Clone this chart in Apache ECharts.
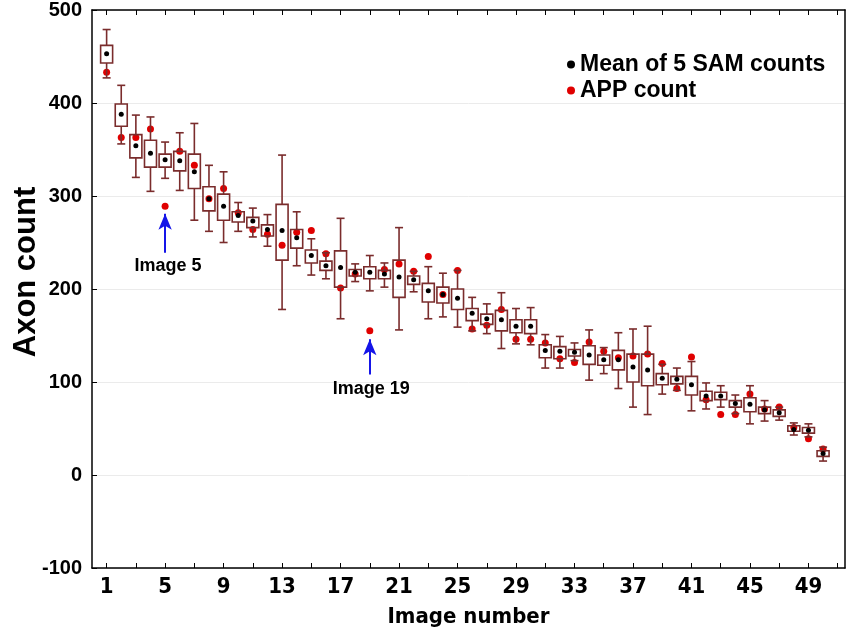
<!DOCTYPE html>
<html>
<head>
<meta charset="utf-8">
<style>
  html, body { margin: 0; padding: 0; background: #fff; }
  #chart { width: 846px; height: 633px; }
</style>
<script src="https://cdn.jsdelivr.net/npm/echarts@6/dist/echarts.min.js"></script>
</head>
<body>
<div id="chart"></div>
<script>
// values, one entry per image
const images = [1, 2, 3, 4, 5, 6, 7, 8, 9, 10, 11, 12, 13, 14, 15, 16, 17, 18, 19, 20,
  21, 22, 23, 24, 25, 26, 27, 28, 29, 30, 31, 32, 33, 34, 35, 36, 37, 38, 39, 40,
  41, 42, 43, 44, 45, 46, 47, 48, 49, 50]
const whiskerLow = [427, 356, 320, 305, 319, 306, 274, 262, 250, 262, 256, 246, 178, 225, 215, 211, 168, 208, 198, 202,
  156, 197, 168, 170, 159, 155, 152, 136, 141, 140, 115, 115, 123, 102, 109, 93, 73, 65, 87, 91,
  69, 71, 73, 66, 55, 58, 59, 43, 41, 15]
const boxLow = [443, 375, 341, 331, 331, 327, 308, 284, 274, 272, 266, 257, 231, 244, 228, 220, 202, 214, 211, 211,
  191, 205, 186, 185, 178, 166, 162, 155, 153, 152, 126, 125, 128, 119, 118, 113, 100, 96, 97, 98,
  86, 80, 81, 73, 68, 66, 63, 47, 45, 20]
const means = [453, 388, 354, 346, 339, 338, 326, 297, 289, 279, 273, 264, 263, 255, 236, 225, 223, 218, 218, 216,
  213, 210, 198, 194, 190, 174, 168, 167, 160, 160, 134, 133, 132, 129, 124, 124, 116, 113, 104, 103,
  97, 85, 85, 77, 76, 70, 67, 49, 48, 23]
const boxHigh = [462, 399, 366, 360, 345, 348, 345, 310, 302, 283, 277, 269, 291, 264, 242, 230, 241, 221, 224, 220,
  231, 214, 206, 202, 200, 179, 173, 177, 167, 167, 140, 138, 135, 139, 129, 134, 130, 130, 109, 106,
  106, 90, 89, 80, 83, 73, 70, 53, 51, 26]
const whiskerHigh = [479, 419, 387, 385, 358, 368, 378, 333, 326, 293, 287, 280, 344, 283, 254, 239, 276, 227, 236, 228,
  266, 219, 224, 217, 220, 191, 184, 196, 179, 180, 151, 149, 142, 156, 137, 153, 157, 160, 119, 115,
  122, 99, 96, 86, 96, 80, 73, 56, 55, 30]
const appCounts = [433, 363, 363, 372, 289, 348, 333, 297, 308, 282, 264, 259, 247, 261, 263, 238, 201, 216, 155, 221,
  227, 219, 235, 194, 220, 157, 161, 178, 146, 146, 142, 125, 121, 143, 133, 126, 128, 130, 120, 93,
  127, 81, 65, 65, 87, 71, 73, 51, 39, 28]

const xTicks = [1, 3, 5, 7, 9, 11, 13, 15, 17, 19, 21, 23, 25, 27, 29, 31, 33, 35, 37, 39, 41, 43, 45, 47, 49, 51]
const xTickLabels = [1, 5, 9, 13, 17, 21, 25, 29, 33, 37, 41, 45, 49]

// the two arrows pointing at outlying APP counts
const notes = ['Image 5', 'Image 19']
const noteImage = [5, 19]
const arrowTail = [239, 108]
const arrowTip = [281, 146]
const noteTextX = [5.2, 19.1]
const noteTextY = [225, 92]

const boxColor = '#7a2c2c'
const boldFont = "'Liberation Sans', Arial, sans-serif"
const narrowFont = "'Liberation Sans Narrow', 'Arial Narrow', 'DejaVu Sans Condensed', sans-serif"

const chart = echarts.init(document.getElementById('chart'))

function renderBox(params, api) {
  const n = api.value(0)
  const lo = api.coord([n, api.value(1)])
  const q1 = api.coord([n, api.value(2)])
  const q3 = api.coord([n, api.value(3)])
  const hi = api.coord([n, api.value(4)])
  const halfBox = 6
  const halfCap = 4
  const style = { stroke: boxColor, lineWidth: 1.6, fill: null }
  return {
    type: 'group',
    children: [
      { type: 'line', shape: { x1: lo[0], y1: lo[1], x2: q1[0], y2: q1[1] }, style },
      { type: 'line', shape: { x1: q3[0], y1: q3[1], x2: hi[0], y2: hi[1] }, style },
      { type: 'line', shape: { x1: lo[0] - halfCap, y1: lo[1], x2: lo[0] + halfCap, y2: lo[1] }, style },
      { type: 'line', shape: { x1: hi[0] - halfCap, y1: hi[1], x2: hi[0] + halfCap, y2: hi[1] }, style },
      { type: 'rect', shape: { x: q3[0] - halfBox, y: q3[1], width: halfBox * 2, height: q1[1] - q3[1] }, style }
    ]
  }
}

const frameLine = { onZero: false, lineStyle: { color: '#000', width: 1.5 } }

const option = {
  animation: false,
  backgroundColor: '#fff',
  grid: { left: 92, right: 1, top: 10, bottom: 65, outerBoundsMode: 'none' },
  legend: {
    data: ['Mean of 5 SAM counts', 'APP count'],
    orient: 'vertical',
    left: 562,
    top: 48,
    icon: 'circle',
    itemWidth: 8,
    itemHeight: 8,
    itemGap: 3,
    textStyle: { fontSize: 23, fontWeight: 'bold', color: '#000', fontFamily: boldFont }
  },
  xAxis: [{
    type: 'value',
    min: 0,
    max: 51.5,
    position: 'bottom',
    axisLine: frameLine,
    axisTick: { inside: true, length: 5, customValues: xTicks, lineStyle: { color: '#000' } },
    axisLabel: {
      customValues: xTickLabels, margin: 8, color: '#000',
      fontSize: 22, fontWeight: 'bold', fontFamily: narrowFont
    },
    splitLine: { show: false },
    name: 'Image number',
    nameLocation: 'middle',
    nameGap: 38,
    nameTextStyle: { fontSize: 22, fontWeight: 'bold', color: '#000', fontFamily: narrowFont }
  }, {
    type: 'value',
    min: 0,
    max: 51.5,
    position: 'top',
    axisLine: frameLine,
    axisTick: { inside: true, length: 5, customValues: xTicks, lineStyle: { color: '#000' } },
    axisLabel: { show: false },
    splitLine: { show: false }
  }],
  yAxis: [{
    type: 'value',
    min: -100,
    max: 500,
    interval: 100,
    axisLine: { show: true, onZero: false, lineStyle: { color: '#000', width: 1.5 } },
    axisTick: { show: true, inside: true, length: 5, lineStyle: { color: '#000' } },
    axisLabel: { color: '#000', fontSize: 20, fontWeight: 'bold', fontFamily: boldFont, margin: 10 },
    splitLine: { show: true, lineStyle: { color: '#ebebeb', width: 1 } },
    name: 'Axon count',
    nameLocation: 'middle',
    nameGap: 50,
    nameMoveOverlap: false,
    nameTextStyle: {
      fontSize: 31, fontWeight: 'bold', color: '#000', fontFamily: boldFont,
      padding: [0, 0, 0, 34]
    }
  }, {
    type: 'value',
    min: -100,
    max: 500,
    interval: 100,
    position: 'right',
    axisLine: { show: true, onZero: false, lineStyle: { color: '#000', width: 1.5 } },
    axisTick: { show: false },
    axisLabel: { show: false },
    splitLine: { show: false }
  }],
  series: [{
    name: 'APP count',
    type: 'scatter',
    symbolSize: 7,
    itemStyle: { color: '#e00000', opacity: 1 },
    z: 2,
    data: images.map((n, i) => [n, appCounts[i]])
  }, {
    name: 'boxes',
    type: 'custom',
    renderItem: renderBox,
    z: 3,
    data: images.map((n, i) => [n, whiskerLow[i], boxLow[i], boxHigh[i], whiskerHigh[i]])
  }, {
    name: 'Mean of 5 SAM counts',
    type: 'scatter',
    symbolSize: 5,
    itemStyle: { color: '#000', opacity: 1 },
    z: 4,
    data: images.map((n, i) => [n, means[i]])
  }, {
    name: 'notes',
    type: 'scatter',
    symbolSize: 0,
    silent: true,
    z: 5,
    itemStyle: { opacity: 1 },
    data: noteTextX.map((x, i) => [x, noteTextY[i]]),
    label: {
      show: true,
      position: 'inside',
      formatter: p => notes[p.dataIndex],
      fontSize: 18,
      fontWeight: 'bold',
      color: '#000',
      opacity: 1,
      fontFamily: boldFont
    },
    markLine: {
      silent: true,
      symbol: ['none', 'arrow'],
      symbolSize: [10, 16],
      label: { show: false },
      lineStyle: { color: '#1515e8', width: 2, type: 'solid' },
      data: notes.map((_, i) => [
        { coord: [noteImage[i], arrowTail[i]] },
        { coord: [noteImage[i], arrowTip[i]] }
      ])
    }
  }]
}

chart.setOption(option)
</script>
</body>
</html>
